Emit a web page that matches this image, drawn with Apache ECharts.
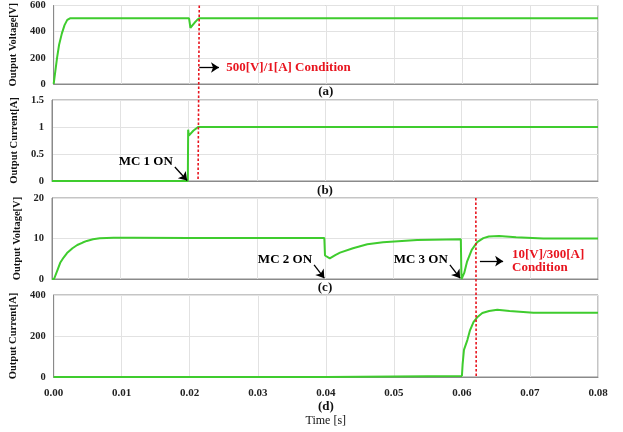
<!DOCTYPE html>
<html><head><meta charset="utf-8">
<script src="https://cdn.jsdelivr.net/npm/echarts@6/dist/echarts.min.js"></script>
<style>html,body{margin:0;padding:0;background:#fff}#c{width:623px;height:432px}</style>
</head><body><div id="c"></div>
<script>
// ---- data ----
const xTicks = [0, 0.01, 0.02, 0.03, 0.04, 0.05, 0.06, 0.07, 0.08];
const tA = [0, 0.0002, 0.0005, 0.0008, 0.0012, 0.0016, 0.002, 0.0024, 0.0199, 0.0201, 0.0207, 0.0211, 0.0214, 0.08];
const vA = [0, 80, 200, 300, 385, 450, 490, 502, 502, 430, 468, 490, 502, 502];
const tB = [0, 0.0199, 0.01995, 0.02005, 0.0207, 0.0214, 0.08];
const iB = [0, 0, 0.95, 0.84, 0.93, 1.0, 1.0];
const tC = [0, 0.0003, 0.0008, 0.0012, 0.0017, 0.0022, 0.003, 0.0037, 0.0045, 0.0051, 0.006, 0.007, 0.009, 0.012, 0.02, 0.03, 0.0399,
            0.04, 0.0407, 0.0415, 0.0422, 0.0441, 0.0462, 0.0485, 0.0535, 0.0599,
            0.06, 0.0604, 0.0608, 0.0615, 0.0623, 0.0632, 0.064, 0.0655, 0.068, 0.072, 0.08];
const vC = [0, 0, 2.2, 4.0, 5.3, 6.4, 7.6, 8.4, 9.0, 9.4, 9.8, 10.05, 10.2, 10.2, 10.15, 10.1, 10.1,
            5.8, 5.1, 5.9, 6.5, 7.6, 8.6, 9.1, 9.6, 9.8,
            0, 1.5, 4.2, 7.2, 9.1, 10.1, 10.5, 10.6, 10.3, 10.0, 10.0];
const tD = [0, 0.04, 0.0401, 0.06, 0.0601, 0.0603, 0.0608, 0.0612, 0.0617, 0.0623, 0.063, 0.064, 0.0652, 0.067, 0.0705, 0.08];
const iD = [0, 0, 5, 5, 60, 132, 180, 229, 268, 293, 312, 322, 328, 322, 314, 313];
const yNames = ['Output Voltage[V]', 'Output Current[A]', 'Output Voltage[V]', 'Output Current[A]'];
const yMax = [600, 1.5, 20, 400];
const yInt = [200, 0.5, 10, 200];
const panelLabels = ['(a)', '(b)', '(c)', '(d)'];
const cond1 = '500[V]/1[A] Condition';
const cond2a = '10[V]/300[A]';
const cond2b = 'Condition';
const mcLabels = ['MC 1 ON', 'MC 2 ON', 'MC 3 ON'];
const tCond1 = 0.0214, tCond2 = 0.0621;

const zip = (t, v) => t.map((x, i) => [x, v[i]]);
const serif = 'Liberation Serif';
const green = '#3fcc2e';
const red = '#e8141e';
const gridPos = [{top: 3, height: 81}, {top: 100, height: 81}, {top: 198, height: 81}, {top: 295, height: 82}];

const arrowML = (pairs) => ({
  silent: true, symbol: ['none', 'arrow'], symbolSize: 8,
  lineStyle: {color: '#000', width: 1.3, type: 'solid'}, label: {show: false},
  data: pairs.map(p => [{coord: p[0]}, {coord: p[1]}])
});

const option = {
  animation: false,
  grid: gridPos.map(g => ({left: 52, right: 25, top: g.top, height: g.height, show: true, borderColor: '#8a8a8a', borderWidth: 1})),
  xAxis: [0, 1, 2, 3].map(i => ({
    type: 'value', gridIndex: i, min: 0, max: 0.08, interval: 0.01,
    axisLine: {lineStyle: {color: '#8a8a8a'}}, axisTick: {show: false},
    splitLine: {show: true, lineStyle: {color: '#e2e2e2'}},
    axisLabel: {show: i === 3, fontFamily: serif, fontWeight: 'bold', fontSize: 11, color: '#222', margin: 11,
                formatter: v => v.toFixed(2)},
    name: i < 3 ? panelLabels[i] : '', nameLocation: 'middle', nameGap: [1, 3, 2, 0][i],
    nameTextStyle: {fontFamily: serif, fontWeight: 'bold', fontSize: 13, color: '#111', verticalAlign: 'top'}
  })),
  yAxis: [0, 1, 2, 3].map(i => ({
    type: 'value', gridIndex: i, min: 0, max: yMax[i], interval: yInt[i],
    axisLine: {show: true, lineStyle: {color: '#8a8a8a'}}, axisTick: {show: false},
    splitLine: {show: true, lineStyle: {color: '#e2e2e2'}},
    axisLabel: {fontFamily: serif, fontWeight: 'bold', fontSize: 10.5, color: '#222', margin: 8},
    name: yNames[i], nameLocation: 'middle', nameGap: 29,
    nameTextStyle: {fontFamily: serif, fontWeight: 'bold', fontSize: 10.5, color: '#111'}
  })),
  series: [
    {type: 'line', xAxisIndex: 0, yAxisIndex: 0, data: zip(tA, vA), showSymbol: false, lineStyle: {color: green, width: 2},
     markLine: arrowML([[[tCond1, 126], [0.0243, 126]]])},
    {type: 'line', xAxisIndex: 1, yAxisIndex: 1, data: zip(tB, iB), showSymbol: false, lineStyle: {color: green, width: 2},
     markLine: arrowML([[[0.0180, 0.26], [0.0198, 0.01]]])},
    {type: 'line', xAxisIndex: 2, yAxisIndex: 2, data: zip(tC, vC), showSymbol: false, lineStyle: {color: green, width: 2},
     markLine: arrowML([[[0.0384, 3.5], [0.0399, 0.2]], [[0.0583, 3.5], [0.0598, 0.2]], [[0.0627, 4.4], [0.0661, 4.4]]])},
    {type: 'line', xAxisIndex: 3, yAxisIndex: 3, data: zip(tD, iD), showSymbol: false, lineStyle: {color: green, width: 2}}
  ]
};

const chart = echarts.init(document.getElementById('c'));
chart.setOption(option);
const px = (g, x, y) => chart.convertToPixel({gridIndex: g}, [x, y]);

const dash = (g1, y1, g2, y2, t) => {
  const a = px(g1, t, y1), b = px(g2, t, y2);
  return {type: 'line', shape: {x1: a[0], y1: a[1], x2: b[0], y2: b[1]}, style: {stroke: red, lineWidth: 1.6, lineDash: [2.5, 2]}, z: 10};
};
const txt = (g, x, y, text, opts) => {
  const p = px(g, x, y);
  return {type: 'text', x: p[0], y: p[1], z: 11, style: Object.assign({text: text, font: 'bold 13px "Liberation Serif"', fill: '#000', textVerticalAlign: 'middle'}, opts)};
};
const dMid = px(3, 0.04, 0);
chart.setOption({graphic: [
  dash(0, 600, 1, 0, tCond1),
  dash(2, 20, 3, 0, tCond2),
  txt(0, 0.02535, 126, cond1, {fill: red, textAlign: 'left'}),
  txt(1, 0.0177, 0.35, mcLabels[0], {textAlign: 'right'}),
  txt(2, 0.0381, 4.7, mcLabels[1], {textAlign: 'right'}),
  txt(2, 0.0580, 4.7, mcLabels[2], {textAlign: 'right'}),
  txt(2, 0.0674, 5.9, cond2a, {fill: red, textAlign: 'left'}),
  txt(2, 0.0674, 2.7, cond2b, {fill: red, textAlign: 'left'}),
  {type: 'text', x: dMid[0], y: dMid[1] + 30, style: {text: panelLabels[3], font: 'bold 13px "Liberation Serif"', fill: '#111', textAlign: 'center', textVerticalAlign: 'middle'}},
  {type: 'text', x: dMid[0], y: dMid[1] + 44, style: {text: 'Time [s]', font: '12px "Liberation Serif"', fill: '#111', textAlign: 'center', textVerticalAlign: 'middle'}}
]});
</script></body></html>
